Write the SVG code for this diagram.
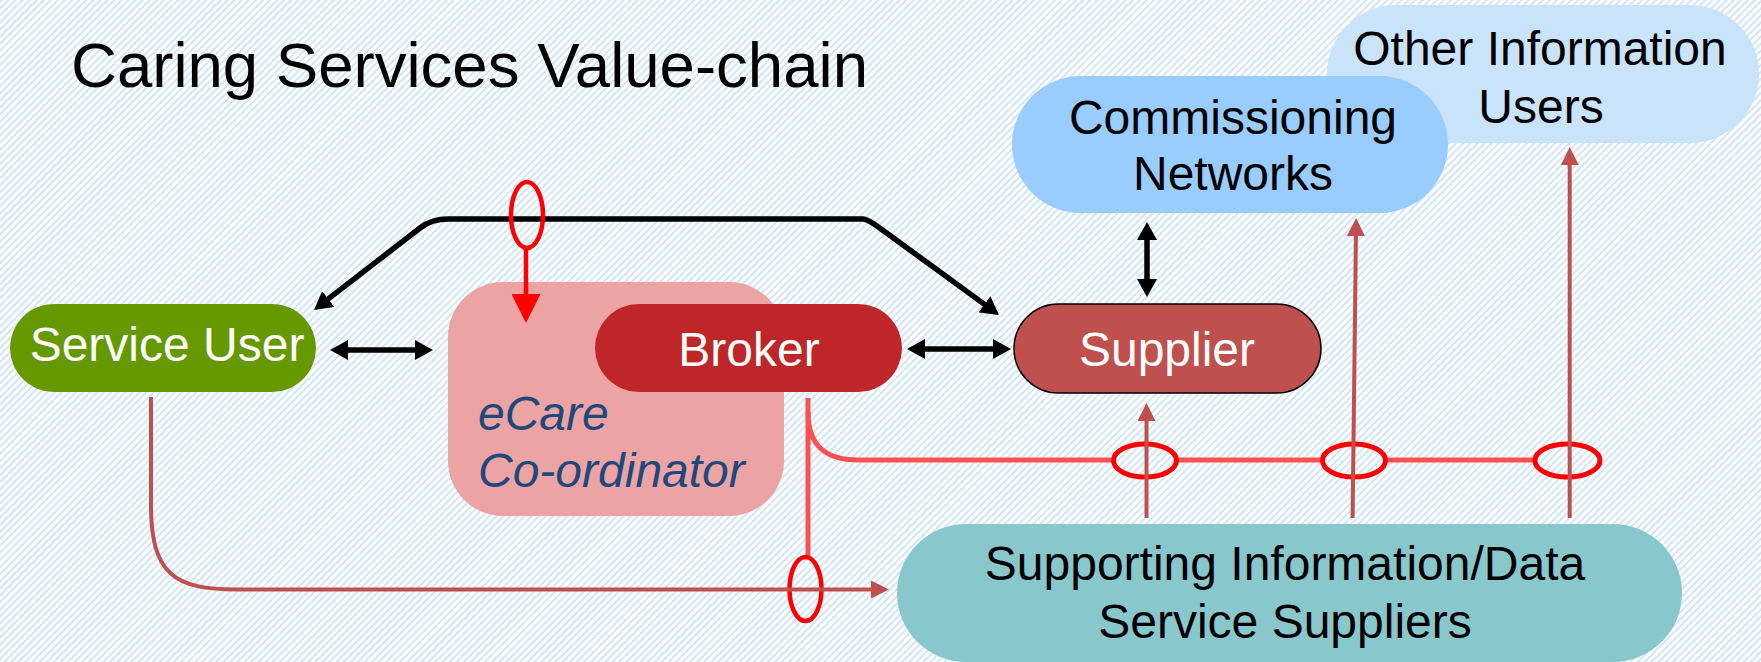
<svg xmlns="http://www.w3.org/2000/svg" width="1761" height="662" viewBox="0 0 1761 662">
  <defs>
    <pattern id="hatch" width="5" height="5" patternUnits="userSpaceOnUse" patternTransform="rotate(45)">
      <rect width="5" height="5" fill="#ffffff"/>
      <rect width="2" height="5" fill="#d2e5fa"/>
    </pattern>
    <marker id="ah-black" viewBox="0 0 18 20" markerWidth="18" markerHeight="20" refX="6" refY="10" orient="auto-start-reverse" markerUnits="userSpaceOnUse">
      <path d="M0,0 L18,10 L0,20 z" fill="#000000"/>
    </marker>
    <marker id="ah-brown" viewBox="0 0 18 18" markerWidth="18" markerHeight="18" refX="6" refY="9" orient="auto-start-reverse" markerUnits="userSpaceOnUse">
      <path d="M0,0 L18,9 L0,18 z" fill="#c0504d"/>
    </marker>
    <marker id="ah-red" viewBox="0 0 29 29" markerWidth="29" markerHeight="29" refX="8" refY="14.5" orient="auto-start-reverse" markerUnits="userSpaceOnUse">
      <path d="M0,0 L29,14.5 L0,29 z" fill="#ff0000"/>
    </marker>
  </defs>
  <style>
    text { font-family: "Liberation Sans", Arial, sans-serif; font-size: 48px; }
    .light { fill: #ffffff; }
    .dark { fill: #000000; }
    .mid { text-anchor: middle; }
    .ital { font-style: italic; fill: #1f497d; }
    .blk { fill: none; stroke: #000000; stroke-width: 5.5; }
    .brn { fill: none; stroke: #c0504d; stroke-width: 4; }
    .pink { fill: none; stroke: #ff5050; stroke-width: 5; }
    .ring { fill: none; stroke: #ff0000; stroke-width: 5; }
  </style>

  <rect x="0" y="0" width="1761" height="662" fill="url(#hatch)"/>

  <text id="title" x="71" y="87" class="dark" style="font-size:63px" textLength="797" lengthAdjust="spacingAndGlyphs">Caring Services Value-chain</text>

  <g id="other-information-users">
    <rect x="1327" y="5" width="432" height="138" rx="69" fill="#c9e3fb"/>
    <text x="1540" y="65" class="dark mid">Other Information</text>
    <text x="1541" y="123" class="dark mid">Users</text>
  </g>

  <g id="commissioning-networks">
    <rect x="1012" y="76" width="436" height="137" rx="68.5" fill="#99ccff"/>
    <text x="1233" y="134" class="dark mid">Commissioning</text>
    <text x="1233" y="190" class="dark mid">Networks</text>
  </g>

  <g id="service-user">
    <rect x="10" y="304" width="306" height="88" rx="44" fill="#669900"/>
    <text x="167" y="361" class="light mid">Service User</text>
  </g>

  <g id="ecare-coordinator">
    <rect x="448" y="282" width="336" height="234" rx="55" fill="#eba3a3"/>
    <text x="478" y="430" class="ital">eCare</text>
    <text x="478" y="487" class="ital">Co-ordinator</text>
  </g>

  <g id="broker">
    <rect x="595" y="304" width="307" height="88" rx="44" fill="#bf2628"/>
    <text x="749" y="366" class="light mid">Broker</text>
  </g>

  <g id="supplier">
    <rect x="1014" y="304" width="307" height="89" rx="44.5" fill="#c0504d" stroke="#000000" stroke-width="1.5"/>
    <text x="1167" y="366" class="light mid">Supplier</text>
  </g>

  <g id="supporting-suppliers">
    <rect x="897" y="524" width="785" height="138" rx="69" fill="#88c8cc"/>
    <text x="1285" y="580" class="dark mid">Supporting Information/Data</text>
    <text x="1285" y="638" class="dark mid">Service Suppliers</text>
  </g>

  <g id="connectors">
    <!-- two-way exchanges -->
    <path class="blk" d="M342,350 L421,350" marker-start="url(#ah-black)" marker-end="url(#ah-black)"/>
    <path class="blk" d="M919,349 L999,349" marker-start="url(#ah-black)" marker-end="url(#ah-black)"/>
    <path class="blk" d="M1147,234 L1147,285" marker-start="url(#ah-black)" marker-end="url(#ah-black)"/>
    <path class="blk" d="M323.5,302.7 L420,228 Q431.6,219 448,219 L863,219 Q867,219 878,226.7 L989.3,307.9" marker-start="url(#ah-black)" marker-end="url(#ah-black)"/>

    <!-- broker data feed -->
    <path class="pink" d="M808,398 L808,557"/>
    <path class="pink" d="M808,412 C808,445 825,460 858,460 L1114,460"/>
    <path class="pink" d="M1176,460 L1323,460"/>
    <path class="pink" d="M1385,460 L1536,460"/>

    <!-- intercept rings -->
    <ellipse class="ring" cx="527" cy="215" rx="16" ry="33" style="stroke-width:4.5"/>
    <path d="M526,248 L526,302" fill="none" stroke="#ff0000" stroke-width="4.5" marker-end="url(#ah-red)"/>
    <ellipse class="ring" cx="805.5" cy="589" rx="16" ry="32" style="stroke-width:4.5"/>
    <ellipse class="ring" cx="1145" cy="460.5" rx="31.5" ry="16.5"/>
    <ellipse class="ring" cx="1354" cy="460.5" rx="31.5" ry="16.5"/>
    <ellipse class="ring" cx="1567.5" cy="460.5" rx="32.5" ry="16.5"/>

    <!-- information flows -->
    <path class="brn" d="M151,397 L151,505 C151,575 175,589.5 237,589.5 L877,589.5" marker-end="url(#ah-brown)"/>
    <path class="brn" d="M1146.5,518 L1146.5,415" marker-end="url(#ah-brown)"/>
    <path class="brn" d="M1352.6,518 L1356,230" marker-end="url(#ah-brown)"/>
    <path class="brn" d="M1569.7,518 L1569.7,159" marker-end="url(#ah-brown)"/>
  </g>
</svg>
